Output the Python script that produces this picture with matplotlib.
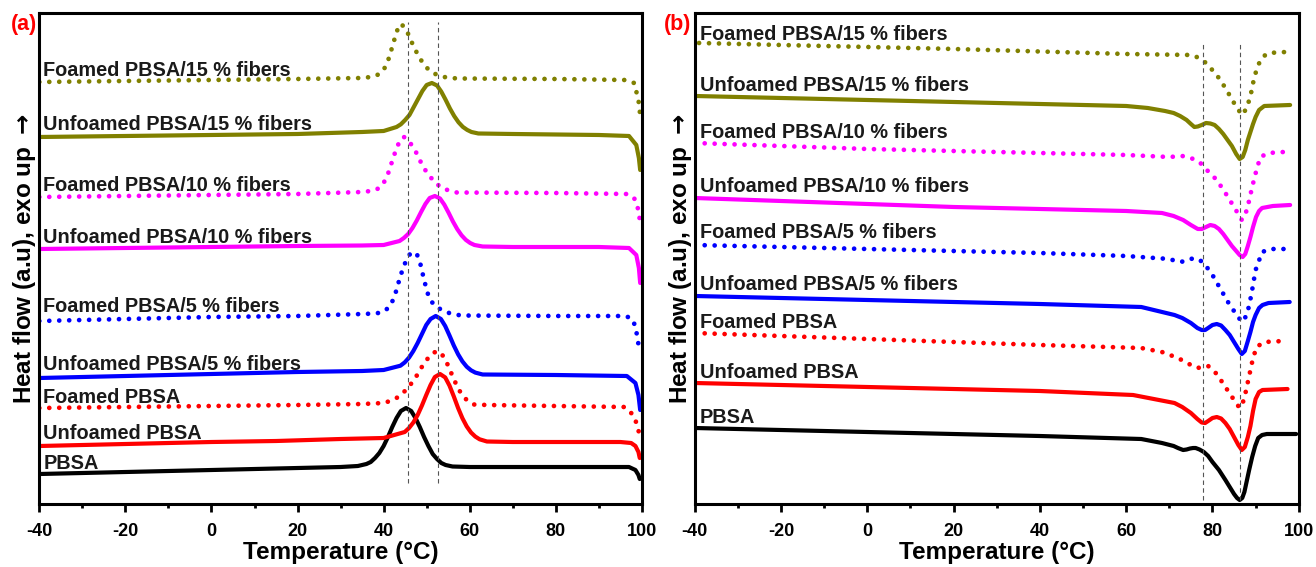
import matplotlib.pyplot as plt
from matplotlib.ticker import MultipleLocator

plt.rcParams['font.family'] = ['Liberation Sans', 'DejaVu Sans']
plt.rcParams['font.weight'] = 'bold'
plt.rcParams['axes.unicode_minus'] = False

# ---- (a) cooling scans: temperature (°C) and heat flow (a.u.) ----
a_pbsa_t = [-40, -20, 0, 20, 30, 34, 36, 37, 38, 39, 40, 41, 42, 43, 44, 45.2, 46.4, 47.4, 48.4, 49.4, 50.4,
            51.4, 52.4, 53.4, 54.4, 56, 60, 70, 90, 97, 98.5, 99.2, 99.5]
a_pbsa_h = [3.0, 3.2, 3.4, 3.6, 3.7, 3.8, 4.0, 4.2, 4.6, 5.1, 5.8, 6.7, 7.7, 8.6, 9.3, 9.6, 9.3, 8.6, 7.7, 6.7, 5.8,
            5.0, 4.5, 4.1, 3.9, 3.75, 3.7, 3.7, 3.7, 3.7, 3.4, 2.9, 2.5]

a_unf_t = [-40, -20, 0, 15, 30, 40, 44.9, 45.9, 46.9, 47.9, 48.9, 49.9, 50.9, 51.9, 53.1, 54.3, 55.3, 56.3, 57.3,
           58.3, 59.3, 60.3, 61.3, 62.3, 64, 70, 85, 95, 97.5, 98.5, 99.2, 99.5]
a_unf_h = [5.8, 6.0, 6.2, 6.3, 6.5, 6.6, 7.2, 7.6, 8.15, 8.9, 9.85, 10.9, 11.9, 12.7, 13.0, 12.66, 11.84, 10.76, 9.6,
           8.58, 7.76, 7.15, 6.74, 6.47, 6.25, 6.2, 6.2, 6.2, 6.1, 5.8, 5.2, 4.6]

a_foam_t = [-40, -20, 0, 20, 35, 40, 41.5, 43, 44.5, 46, 47.5, 49, 50.5, 51.5, 52.5, 53.5, 54.5, 55.5, 56.5, 57.5,
            58.5, 59.5, 61, 64, 80, 96, 98, 99, 99.6]
a_foam_h = [9.6, 9.7, 9.8, 9.9, 10.0, 10.1, 10.3, 10.6, 11.1, 11.8, 12.7, 13.8, 14.7, 15.1, 15.3, 15.0, 14.3, 13.3,
            12.3, 11.4, 10.8, 10.3, 9.95, 9.9, 9.8, 9.7, 8.9, 7.8, 6.5]

a_unf5_t = [-40, -20, 0, 20, 35, 40, 43.9, 44.9, 45.9, 46.9, 47.9, 48.9, 49.9, 50.9, 52.1, 53.3, 54.3, 55.3, 56.3,
            57.3, 58.3, 59.3, 60.3, 61.3, 63, 80, 96.5, 98.5, 99.2, 99.6]
a_unf5_h = [12.6, 12.8, 13.0, 13.2, 13.3, 13.4, 13.83, 14.16, 14.64, 15.3, 16.1, 17.0, 17.9, 18.5, 18.8, 18.5, 17.8,
            16.85, 15.85, 14.97, 14.26, 13.73, 13.37, 13.14, 12.95, 12.9, 12.8, 12.1, 10.9, 9.4]

a_foam5_t = [-40, -20, 0, 20, 35, 38, 39.5, 40.5, 41.5, 42.5, 43.5, 44.5, 45.5, 46.3, 47, 47.8, 48.6, 49.4, 50.2, 51,
             52, 53.5, 55.5, 58, 80, 96, 97.5, 98.5, 99.3]
a_foam5_h = [18.3, 18.5, 18.7, 18.8, 19.0, 19.05, 19.15, 19.4, 19.8, 20.7, 22.2, 23.6, 24.6, 25.1, 25.2, 24.9, 23.9,
             22.4, 21.1, 20.3, 19.8, 19.4, 19.05, 18.85, 18.8, 18.8, 18.6, 17.8, 15.7]

a_unf10_t = [-40, -20, 0, 20, 35, 40, 43.7, 44.7, 45.7, 46.7, 47.7, 48.7, 49.7, 50.7, 51.9, 53.1, 54.1, 55.1, 56.1,
             57.1, 58.1, 59.1, 60.1, 61.1, 63, 70, 90, 97, 98.7, 99.3, 99.6]
a_unf10_h = [25.5, 25.6, 25.7, 25.8, 25.85, 25.9, 26.3, 26.6, 27.0, 27.6, 28.35, 29.2, 30.0, 30.6, 30.8, 30.55, 29.93,
             29.12, 28.25, 27.49, 26.87, 26.41, 26.1, 25.9, 25.75, 25.7, 25.7, 25.6, 24.9, 23.6, 22.1]

a_foam10_t = [-40, -20, 0, 20, 35, 37, 38, 39, 40, 41, 42, 43, 44, 44.7, 45.5, 46.5, 47.5, 48.5, 49.5, 50.5, 52, 54,
              57, 80, 96.5, 98.2, 99.2, 99.6]
a_foam10_h = [30.7, 30.8, 30.9, 31.0, 31.2, 31.3, 31.4, 31.6, 32.1, 33.0, 34.3, 35.6, 36.5, 36.7, 36.5, 35.9, 35.2,
              34.3, 33.5, 32.9, 32.1, 31.5, 31.15, 31.1, 31.0, 30.6, 29.4, 28.1]

a_unf15_t = [-40, -20, 0, 20, 35, 40, 43.0, 44.0, 45.0, 46.0, 47.0, 48.0, 49.0, 50.0, 51.2, 52.4, 53.4, 54.4, 55.4,
             56.4, 57.4, 58.4, 59.4, 60.4, 62, 70, 90, 97, 98.7, 99.3, 99.6]
a_unf15_h = [36.7, 36.8, 36.9, 37.0, 37.2, 37.3, 37.7, 37.97, 38.4, 38.9, 39.7, 40.5, 41.3, 41.9, 42.1, 41.85, 41.23,
             40.42, 39.55, 38.79, 38.17, 37.71, 37.41, 37.2, 37.05, 37.0, 36.9, 36.8, 35.9, 34.6, 33.4]

a_foam15_t = [-40, -20, 0, 20, 35, 37, 38, 39, 40, 41, 42, 43, 43.8, 44.6, 45.5, 46.5, 47.5, 48.5, 49.5, 50.5, 52,
              54, 57, 80, 96, 98.2, 99.2, 99.6]
a_foam15_h = [42.2, 42.3, 42.4, 42.5, 42.6, 42.7, 42.8, 43.0, 43.4, 44.3, 45.7, 47.2, 48.0, 47.8, 47.2, 46.2, 45.3,
              44.5, 43.9, 43.4, 43.0, 42.7, 42.55, 42.5, 42.4, 42.1, 40.4, 38.9]

# ---- (b) heating scans ----
b_pbsa_t = [-40, -20, 0, 20, 40, 63.5, 68.3, 71, 72, 73.2, 74, 74.8, 75.5, 76.1, 77, 78, 79, 80, 81.5, 83, 84, 85,
            85.7, 86.3, 86.9, 87.4, 87.9, 88.5, 89.2, 89.9, 90.6, 91.5, 92.6, 99.4]
b_pbsa_h = [7.6, 7.4, 7.2, 7.0, 6.8, 6.5, 6.1, 5.8, 5.6, 5.4, 5.45, 5.55, 5.6, 5.6, 5.45, 5.2, 4.8, 4.2, 3.4, 2.4,
            1.7, 1.0, 0.6, 0.4, 0.6, 1.2, 2.2, 3.4, 4.7, 5.8, 6.6, 6.9, 7.0, 7.0]

b_unf_t = [-40, -20, 0, 20, 40, 61.6, 71.2, 73, 75, 76.5, 77.5, 78.3, 79, 80, 81, 82, 83, 84, 85, 86, 86.8, 87.5,
           88.2, 88.8, 89.4, 90, 90.8, 91.6, 97.4]
b_unf_h = [12.1, 11.9, 11.7, 11.5, 11.3, 10.9, 10.1, 9.7, 9.1, 8.5, 8.15, 8.1, 8.3, 8.6, 8.7, 8.55, 8.1, 7.5, 6.7,
           5.9, 5.4, 5.7, 6.7, 7.8, 9.3, 10.5, 11.2, 11.4, 11.5]

b_foam_t = [-40, -20, 0, 20, 40, 63.5, 68.3, 72, 75, 76.5, 79, 81, 83, 85, 86.3, 87.3, 88.3, 89.3, 90.2, 92, 96.5]
b_foam_h = [17.1, 16.8, 16.5, 16.2, 15.9, 15.6, 15.2, 14.6, 13.9, 13.6, 13.8, 13.0, 11.7, 10.4, 9.6, 10.4, 12.4,
            14.4, 15.7, 16.2, 16.3]

b_unf5_t = [-40, -20, 0, 20, 40, 63.5, 71.2, 73, 75, 76.5, 77.5, 78.3, 79, 80, 81, 82, 83, 84, 85, 86, 86.8, 87.5,
            88.2, 88.8, 89.4, 90, 90.8, 91.6, 93, 97.9]
b_unf5_h = [20.8, 20.6, 20.4, 20.2, 20.0, 19.7, 18.9, 18.6, 18.1, 17.6, 17.4, 17.4, 17.6, 17.9, 18.0, 17.85, 17.4,
            16.9, 16.2, 15.5, 15.0, 15.3, 16.3, 17.2, 18.2, 18.9, 19.6, 19.9, 20.1, 20.2]

b_foam5_t = [-40, -20, 0, 20, 40, 60, 70, 72.3, 74, 75.6, 77, 78, 80, 82, 84, 86.8, 88, 89, 90, 91.5, 93.5, 96.5]
b_foam5_h = [25.9, 25.7, 25.5, 25.3, 25.1, 24.8, 24.5, 24.2, 24.3, 24.6, 24.4, 24.1, 22.9, 21.4, 19.9, 18.2, 18.9,
             20.9, 23.4, 25.2, 25.5, 25.5]

b_unf10_t = [-40, -20, 0, 20, 40, 60, 68.3, 71, 73.2, 75, 76.6, 77.5, 78.5, 79.5, 80.5, 81.5, 82.5, 83.5, 84.5,
             85.5, 86.3, 87, 87.6, 88.2, 88.8, 89.4, 90.1, 90.8, 91.5, 94, 98]
b_unf10_h = [30.6, 30.3, 30.0, 29.7, 29.5, 29.3, 29.1, 28.8, 28.4, 27.9, 27.5, 27.5, 27.7, 27.9, 27.8, 27.5, 27.0,
             26.4, 25.8, 25.3, 24.9, 24.7, 25.0, 25.8, 26.7, 27.7, 28.7, 29.3, 29.6, 29.8, 29.9]

b_foam10_t = [-40, -20, 0, 20, 40, 60, 70, 73, 75, 77, 78, 81, 83, 85, 86.8, 88, 89.2, 90.2, 91.1, 93, 96.5]
b_foam10_h = [36.1, 35.8, 35.5, 35.3, 35.1, 34.9, 34.7, 34.8, 34.6, 34.2, 33.7, 32.4, 31.1, 29.7, 28.4, 29.4, 31.7,
              33.4, 34.7, 35.1, 35.2]

b_unf15_t = [-40, -20, 0, 20, 40, 60, 65, 69, 71, 72.5, 74, 75, 75.8, 76.6, 77.5, 78.5, 79.5, 80.5, 81.5, 82.5,
             83.5, 84.5, 85.5, 86.3, 87, 87.6, 88.2, 88.8, 89.4, 90, 90.8, 92, 98]
b_unf15_h = [40.8, 40.6, 40.4, 40.2, 40.0, 39.8, 39.6, 39.3, 39.1, 38.8, 38.4, 38.0, 37.7, 37.75, 37.9, 38.1, 38.05,
             37.9, 37.5, 37.0, 36.4, 35.8, 35.0, 34.5, 34.7, 35.4, 36.4, 37.2, 38.0, 38.7, 39.4, 39.8, 39.9]

b_foam15_t = [-39, -20, 0, 20, 40, 60, 75, 77, 78.5, 81, 83, 85, 86.8, 88, 89, 89.7, 90.6, 91.6, 93, 97]
b_foam15_h = [46.1, 45.9, 45.7, 45.5, 45.25, 45.0, 44.9, 44.6, 44.1, 42.9, 41.6, 40.1, 38.9, 39.6, 41.2, 42.7,
              43.9, 44.7, 45.1, 45.2]

# sample names and the heat flow level where each label sits
sample_names = ['PBSA', 'Unfoamed PBSA', 'Foamed PBSA',
                'Unfoamed PBSA/5 % fibers', 'Foamed PBSA/5 % fibers',
                'Unfoamed PBSA/10 % fibers', 'Foamed PBSA/10 % fibers',
                'Unfoamed PBSA/15 % fibers', 'Foamed PBSA/15 % fibers']
label_h_a = [4.1, 7.1, 10.7, 14.0, 19.7, 26.6, 31.8, 37.9, 43.3]
label_h_b = [8.7, 13.2, 18.1, 21.9, 27.1, 31.7, 37.1, 41.8, 46.9]

# peak temperatures marked with dashed guides
guides_a = [45.6, 52.6]
guides_b = [77.9, 86.3]

colors = ['black', '#ff0000', '#ff0000', '#0000ff', '#0000ff',
          '#ff00ff', '#ff00ff', '#808000', '#808000']
dotted = [False, False, True, False, True, False, True, False, True]

curves_a = [(a_pbsa_t, a_pbsa_h), (a_unf_t, a_unf_h), (a_foam_t, a_foam_h),
            (a_unf5_t, a_unf5_h), (a_foam5_t, a_foam5_h),
            (a_unf10_t, a_unf10_h), (a_foam10_t, a_foam10_h),
            (a_unf15_t, a_unf15_h), (a_foam15_t, a_foam15_h)]
curves_b = [(b_pbsa_t, b_pbsa_h), (b_unf_t, b_unf_h), (b_foam_t, b_foam_h),
            (b_unf5_t, b_unf5_h), (b_foam5_t, b_foam5_h),
            (b_unf10_t, b_unf10_h), (b_foam10_t, b_foam10_h),
            (b_unf15_t, b_unf15_h), (b_foam15_t, b_foam15_h)]

fig = plt.figure(figsize=(13.16, 5.67), dpi=100)
ax_a = fig.add_axes([0.02986, 0.1111, 0.4579, 0.8660])
ax_b = fig.add_axes([0.5279, 0.1111, 0.4590, 0.8660])


def draw_panel(ax, curves, label_h, guides, guide_span, label_x, tag, tag_x, ylab_x):
    for (t, h), c, dot in zip(curves, colors, dotted):
        if dot:
            ax.plot(t, h, color=c, lw=3.4, linestyle=(0, (0.01, 2.1)),
                    dash_capstyle='round')
        else:
            ax.plot(t, h, color=c, lw=3.0, solid_joinstyle='round',
                    solid_capstyle='round')
    ax.vlines(guides, guide_span[0], guide_span[1], colors='#555555',
              lw=0.8, linestyles=(0, (4, 3)))
    for name, y in zip(sample_names, label_h):
        ax.text(label_x, y, name, fontsize=14.3, color='#1a1a1a',
                ha='left', va='center', fontweight='bold')

    ax.set_xlim(-40, 100)
    ax.set_ylim(0, 49.1)
    ax.xaxis.set_major_locator(MultipleLocator(20))
    ax.xaxis.set_minor_locator(MultipleLocator(10))
    ax.set_yticks([])
    ax.tick_params(axis='x', which='major', direction='out', length=6,
                   width=2, labelsize=13, pad=7.5)
    ax.tick_params(axis='x', which='minor', direction='out', length=3, width=2)
    for lab in ax.get_xticklabels():
        lab.set_fontweight('bold')
    for sp in ax.spines.values():
        sp.set_linewidth(2.2)
    ax.set_xlabel('Temperature (°C)', fontsize=17.5, fontweight='bold', labelpad=1)
    ax.set_ylabel('Heat flow (a.u), exo up $\\rightarrow$', fontsize=17.5,
                  fontweight='bold')
    ax.yaxis.set_label_coords(ylab_x, 0.5)
    fig.text(tag_x, 0.956, tag, color='#ff0000', fontsize=15.5,
             fontweight='bold', ha='center', va='center')


draw_panel(ax_a, curves_a, label_h_a, guides_a, (2.1, 48.2), -39.1, '(a)', 0.0179, -0.002)
draw_panel(ax_b, curves_b, label_h_b, guides_b, (0.4, 46.2), -38.8, '(b)', 0.5149, -0.0015)

fig.savefig('out.png', dpi=100)
